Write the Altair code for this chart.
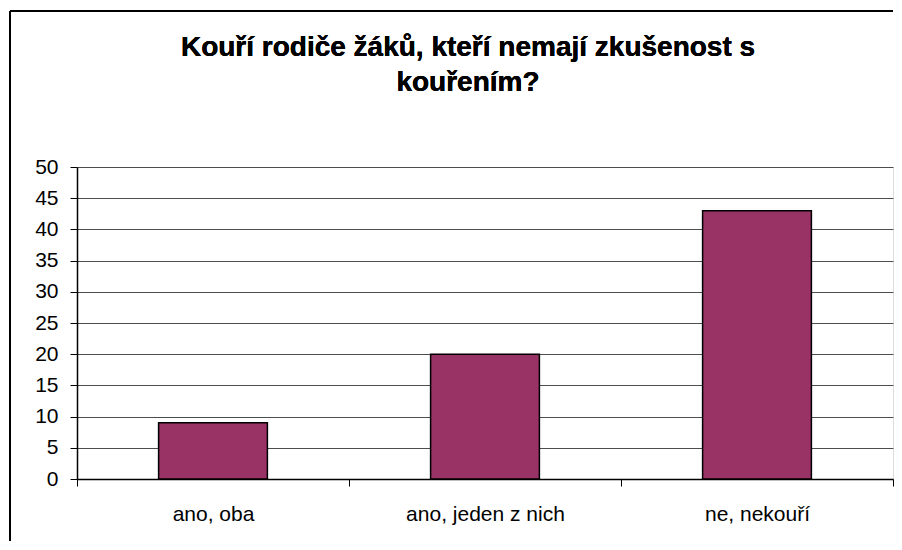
import altair as alt
import pandas as pd

categories = ["ano, oba", "ano, jeden z nich", "ne, nekouří"]
values = [9, 20, 43]
title_lines = ["Kouří rodiče žáků, kteří nemají zkušenost s", "kouřením?"]
y_ticks = list(range(0, 51, 5))

df = pd.DataFrame({"kategorie": categories, "pocet": values})

font = "Liberation Sans"
W, H = 816, 312

bars = alt.Chart(df).mark_bar(
    color="#993366", stroke="#000000", strokeWidth=1.5,
    width=alt.RelativeBandSize(0.4)).encode(
    x=alt.X("kategorie:N", sort=categories, title=None,
            scale=alt.Scale(paddingInner=0, paddingOuter=0),
            axis=alt.Axis(labelAngle=0, labelFont=font, labelFontSize=21, labelColor="black",
                          tickBand="extent", ticks=True, tickSize=7, tickColor="black",
                          domainColor="black", domainWidth=1.5, labelPadding=17, grid=False)),
    y=alt.Y("pocet:Q", title=None, scale=alt.Scale(domain=[0, 50], nice=False),
            axis=alt.Axis(values=y_ticks, labelFont=font, labelFontSize=21, labelColor="black",
                          tickSize=7, tickColor="black", domainColor="black", domainWidth=1.5,
                          labelPadding=12, grid=True, gridColor="#4d4d4d", gridWidth=1)),
)

frame_left = alt.Chart(df).mark_rule(color="black", strokeWidth=2).encode(
    x=alt.value(-67), y=alt.value(-156), y2=alt.value(374))
frame_top = alt.Chart(df).mark_rule(color="black", strokeWidth=2).encode(
    x=alt.value(-67), x2=alt.value(W), y=alt.value(-156))

title_1 = alt.Chart(df).mark_text(
    text=title_lines[0], font=font, fontSize=28, fontWeight="bold", color="black",
    align="center", baseline="middle").encode(x=alt.value(391), y=alt.value(-119))
title_2 = alt.Chart(df).mark_text(
    text=title_lines[1], font=font, fontSize=28, fontWeight="bold", color="black",
    align="center", baseline="middle").encode(x=alt.value(391), y=alt.value(-84))

chart = alt.layer(bars, frame_left, frame_top, title_1, title_2).properties(
    width=W, height=H,
    padding={"left": 1, "top": 2, "right": 0, "bottom": 0},
).configure_view(stroke="#8c8c8c", strokeWidth=1.5).configure(background="white")

chart.save("out.html", embed_options={"renderer": "svg", "actions": False})
